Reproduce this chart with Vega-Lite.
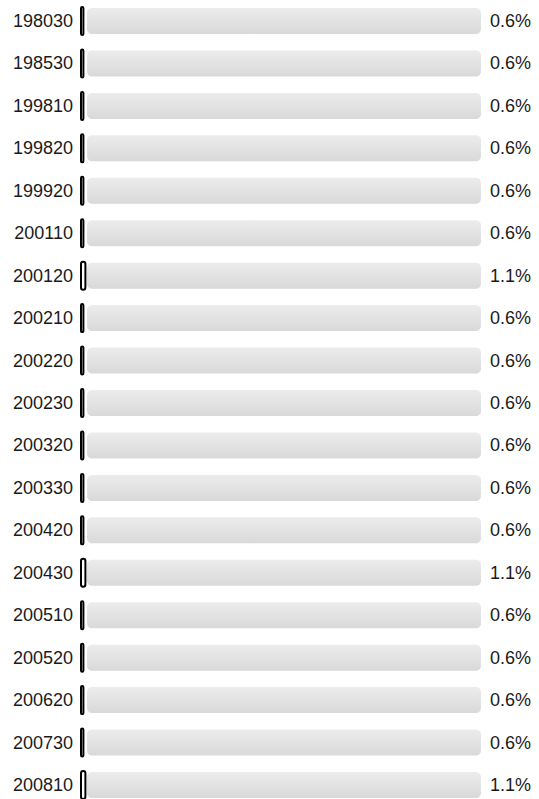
{
  "$schema": "https://vega.github.io/schema/vega-lite/v6.json",
  "width": 539,
  "height": 799,
  "autosize": "none",
  "padding": 0,
  "background": "white",
  "config": {"view": {"stroke": null}, "font": "Liberation Sans"},
  "data": {
    "values": [
      {"code": "198030", "share": 0.006},
      {"code": "198530", "share": 0.006},
      {"code": "199810", "share": 0.006},
      {"code": "199820", "share": 0.006},
      {"code": "199920", "share": 0.006},
      {"code": "200110", "share": 0.006},
      {"code": "200120", "share": 0.011},
      {"code": "200210", "share": 0.006},
      {"code": "200220", "share": 0.006},
      {"code": "200230", "share": 0.006},
      {"code": "200320", "share": 0.006},
      {"code": "200330", "share": 0.006},
      {"code": "200420", "share": 0.006},
      {"code": "200430", "share": 0.011},
      {"code": "200510", "share": 0.006},
      {"code": "200520", "share": 0.006},
      {"code": "200620", "share": 0.006},
      {"code": "200730", "share": 0.006},
      {"code": "200810", "share": 0.011}
    ]
  },
  "layer": [
    {
      "mark": {"type": "bar", "height": 26, "cornerRadius": 5,
        "fill": {"gradient": "linear", "x1": 0, "y1": 0, "x2": 0, "y2": 1, "stops": [{"offset": 0, "color": "#ececec"}, {"offset": 1, "color": "#d9d9d9"}]}},
      "encoding": {
        "y": {"field": "code", "type": "nominal", "sort": null, "scale": {"type": "point", "range": [21, 785], "padding": 0}, "axis": null},
        "x": {"datum": 0.015, "type": "quantitative", "scale": {"domain": [0, 1], "range": [81, 481]}, "axis": null},
        "x2": {"datum": 1, "type": "quantitative"}
      }
    },
    {
      "mark": {"type": "bar", "height": 28, "cornerRadius": 3, "fill": "white", "stroke": "black", "strokeWidth": 2},
      "encoding": {
        "y": {"field": "code", "type": "nominal", "sort": null},
        "x": {"datum": 0, "type": "quantitative"},
        "x2": {"field": "share", "type": "quantitative"}
      }
    },
    {
      "mark": {"type": "text", "align": "right", "baseline": "middle", "dx": -8, "dy": 1, "fontSize": 18, "color": "#1a1a1a"},
      "encoding": {
        "y": {"field": "code", "type": "nominal", "sort": null},
        "x": {"datum": 0, "type": "quantitative"},
        "text": {"field": "code", "type": "nominal"}
      }
    },
    {
      "mark": {"type": "text", "align": "left", "baseline": "middle", "dx": 9, "dy": 1, "fontSize": 18, "color": "#1a1a1a"},
      "encoding": {
        "y": {"field": "code", "type": "nominal", "sort": null},
        "x": {"datum": 1, "type": "quantitative"},
        "text": {"field": "share", "type": "quantitative", "format": ".1%"}
      }
    }
  ]
}
